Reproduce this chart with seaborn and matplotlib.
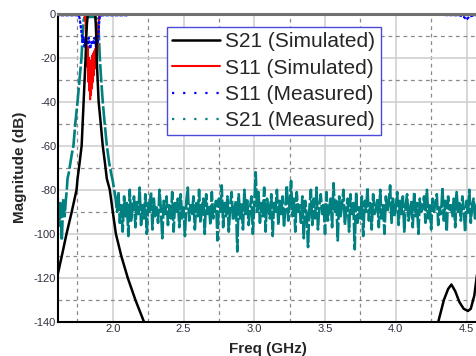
import numpy as np
import pandas as pd
import matplotlib
matplotlib.use("Agg")
import matplotlib.pyplot as plt
import seaborn as sns
from matplotlib.lines import Line2D
from matplotlib.ticker import FixedLocator, FuncFormatter

sns.set_style("white")
plt.rcParams["font.family"] = ["Liberation Sans", "DejaVu Sans"]
plt.rcParams["axes.unicode_minus"] = False

# ---------------- data ----------------
# S21 simulated (black)
s21_sim_f = [1.60, 1.609, 1.64, 1.673, 1.71, 1.744, 1.751, 1.765, 1.780, 1.787, 1.794,
             1.801, 1.808, 1.813, 1.818, 1.823, 1.83, 1.87, 1.876, 1.880, 1.883, 1.886,
             1.893, 1.900, 1.915, 1.929, 1.945, 1.958, 1.979, 2.000, 2.022, 2.060,
             2.106, 2.160, 2.221, 2.300, 2.450, 3.000, 4.000, 4.220, 4.300, 4.340,
             4.370, 4.393, 4.420, 4.450, 4.480, 4.510, 4.530, 4.555, 4.575, 4.600]
s21_sim_db = [-121, -119, -110, -100, -90, -80, -75, -68, -60, -50, -40,
              -30, -20, -10, -4, -1, -0.4, -0.4, -1, -5, -10, -20,
              -30, -40, -50, -60, -68, -75, -80, -90, -100, -110,
              -120, -130, -140, -150, -165, -180, -170, -155, -140, -130,
              -125, -123, -126, -131, -134, -135, -134, -128, -118, -108]

# S11 simulated (red)
s11_sim_f = [1.60, 1.80, 1.808, 1.813, 1.818, 1.822, 1.826, 1.83, 1.833, 1.836, 1.84,
             1.843, 1.846, 1.85, 1.853, 1.856, 1.86, 1.863, 1.867, 1.87, 1.873,
             1.877, 1.88, 1.884, 1.888, 1.892, 1.896, 1.90, 1.905, 4.60]
s11_sim_db = [0, -0.3, -4, -16, -24, -15, -31, -20, -35, -22, -39,
              -25, -37, -21, -34, -19, -31, -18, -28, -17, -25,
              -16, -23, -15, -20, -16, -10, -4, 0, 0]

# S11 measured (blue)
s11_meas_f = [1.60, 1.76, 1.765, 1.772, 1.78, 1.787, 1.795, 1.80, 1.81, 1.82, 1.83,
              1.84, 1.85, 1.86, 1.87, 1.88, 1.89, 1.895, 1.90, 1.905, 1.91, 1.93,
              2.10, 2.12, 3.58, 3.60, 3.62, 4.33, 4.35, 4.45, 4.48, 4.50, 4.52,
              4.55, 4.60]
s11_meas_db = [-0.8, -0.8, -2, -5, -9, -13, -11, -15, -12, -14, -11,
               -16, -13, -14, -11, -15, -12, -13, -8, -3, -1, -0.8,
               -0.8, 0, 0, -0.6, 0, 0, -0.7, -0.8, -1.5, -2.7, -1.5,
               -0.8, -0.7]

# S21 measured (teal): lower band edge, pass band, upper band edge
s21_meas_edge_f = [1.60, 1.61, 1.62, 1.63, 1.64, 1.65, 1.66, 1.668, 1.675, 1.68, 1.69,
                   1.70, 1.71, 1.722, 1.735, 1.751, 1.765, 1.779, 1.787, 1.794, 1.80,
                   1.82, 1.84, 1.86, 1.88, 1.895, 1.902, 1.908, 1.918, 1.929, 1.943,
                   1.958, 1.975, 1.99, 2.00, 2.01]
s21_meas_edge_db = [-88, -83, -97, -86, -103, -84, -92, -85, -80, -75, -72,
                    -68, -64, -60, -50, -40, -30, -20, -10, -3, -1.8,
                    -1.5, -1.6, -1.5, -1.8, -3, -10, -20, -30, -40, -50,
                    -60, -68, -73, -76, -80]
# S21 measured noise floor, 2.02 ... 4.60 GHz in 10 MHz steps
s21_meas_noise_db = [
    -84, -90, -81, -95, -87, -99, -83, -92, -86, -101, -80, -94, -88, -83, -97, -85, -91, -79, -96, -87,
    -93, -82, -100, -86, -90, -81, -98, -84, -92, -88, -95, -80, -89, -102, -85, -91, -83, -96, -87, -93,
    -81, -99, -86, -90, -84, -97, -82, -93, -88, -101, -85, -79, -94, -87, -91, -83, -98, -86, -92, -80,
    -95, -88, -84, -100, -82, -91, -87, -96, -81, -93, -89, -85, -103, -84, -90, -78, -97, -86, -92, -83,
    -99, -87, -81, -94, -89, -85, -108, -82, -93, -86, -98, -80, -91, -84, -96, -88, -83, -100, -87, -72,
    -90, -81, -95, -86, -92, -79, -99, -84, -88, -93, -82, -101, -86, -90, -80, -96, -85, -91, -83, -97,
    -88, -78, -94, -86, -76, -92, -84, -99, -81, -90, -87, -95, -83, -102, -85, -91, -106, -88, -80, -96,
    -84, -93, -79, -98, -87, -82, -91, -86, -100, -81, -94, -88, -84, -97, -77, -90, -85, -103, -83, -92,
    -87, -80, -96, -89, -84, -99, -82, -91, -86, -107, -81, -95, -88, -93, -83, -101, -85, -90, -79, -94,
    -86, -98, -82, -91, -88, -84, -97, -80, -93, -87, -100, -83, -90, -86, -78, -95, -84, -92, -88, -81,
    -96, -85, -91, -83, -99, -87, -82, -94, -89, -85, -97, -81, -92, -86, -100, -84, -90, -88, -83, -95,
    -80, -93, -87, -98, -84, -90, -86, -82, -96, -88, -91, -79, -94, -85, -99, -83, -89, -87, -92, -84,
    -97, -81, -90, -86, -94, -83, -88, -99, -85, -91, -80, -95, -87, -84, -93, -89, -82, -96, -88]
s21_meas_noise_f = list(np.round(np.arange(2.02, 4.605, 0.01), 2))

legend_labels = ["S21 (Simulated)", "S11 (Simulated)", "S11 (Measured)", "S21 (Measured)"]
x_major = [2.0, 2.5, 3.0, 3.5, 4.0, 4.5]
x_minor = [1.75, 2.25, 2.75, 3.25, 3.75, 4.25]
y_major = [0, -20, -40, -60, -80, -100, -120, -140]
y_minor = [-10, -30, -50, -70, -90, -110, -130]

# ---------------- figure ----------------
fig = plt.figure(figsize=(4.77, 3.56), dpi=100)
L, R, B, T = 58.3 / 477, 1.0, 1 - 322 / 356, 1 - 13.5 / 356
ax = fig.add_axes([L, B, R - L, T - B])

teal = "#008080"
df_teal = pd.DataFrame({"f": s21_meas_edge_f + s21_meas_noise_f,
                        "db": s21_meas_edge_db + s21_meas_noise_db})
sns.lineplot(data=df_teal, x="f", y="db", ax=ax, color=teal, lw=1.9,
             linestyle=(0, (7, 1)), sort=False, estimator=None, zorder=3)
sns.lineplot(x=s11_sim_f, y=s11_sim_db, ax=ax, color="#ff0000", lw=1.5,
             sort=False, estimator=None, zorder=4)
sns.lineplot(x=s11_meas_f, y=s11_meas_db, ax=ax, color="#0000ff", lw=1.6,
             linestyle=(0, (1.5, 0.6)), sort=False, estimator=None, zorder=5)
sns.lineplot(x=s21_sim_f, y=s21_sim_db, ax=ax, color="black", lw=1.8,
             sort=False, estimator=None, zorder=6)
l_teal, l_red, l_blue, l_black = ax.lines[:4]

ax.set_xlim(1.615, 4.574)
ax.set_ylim(-140, 0)
ax.xaxis.set_major_locator(FixedLocator(x_major))
ax.xaxis.set_minor_locator(FixedLocator(x_minor))
ax.yaxis.set_major_locator(FixedLocator(y_major))
ax.yaxis.set_minor_locator(FixedLocator(y_minor))
ax.xaxis.set_major_formatter(FuncFormatter(lambda v, p: f"{v:.1f}"))
ax.yaxis.set_major_formatter(FuncFormatter(lambda v, p: f"{int(round(v))}"))
ax.grid(which="major", color="#cdcdcd", lw=1.1, ls="-", zorder=0)
ax.grid(which="minor", color="#8a8a8a", lw=0.9, ls=(0, (3, 3)), zorder=0)
ax.set_axisbelow(True)
ax.tick_params(which="both", length=0)
ax.tick_params(axis="x", pad=1.5, labelsize=8, labelcolor="#303040")
ax.tick_params(axis="y", pad=1.5, labelsize=8, labelcolor="#303040")

for s in ("left", "bottom"):
    ax.spines[s].set_color("black")
    ax.spines[s].set_linewidth(1.5)
    ax.spines[s].set_zorder(8)
ax.spines["top"].set_color("#707070")
ax.spines["top"].set_linewidth(2.2)
ax.spines["top"].set_zorder(8)
ax.spines["right"].set_visible(False)

ax.set_xlabel("Freq (GHz)", fontsize=11, fontweight="bold", labelpad=6)
ax.set_ylabel("Magnitude (dB)", fontsize=11, fontweight="bold", labelpad=5)

h_blue = Line2D([], [], color="#0000ff", lw=1.6, linestyle=(0, (1, 4)))
h_teal = Line2D([], [], color=teal, lw=1.6, linestyle=(0, (1, 4)))
leg = ax.legend(handles=[l_black, l_red, h_blue, h_teal], labels=legend_labels,
                loc="upper left", bbox_to_anchor=(0.2596, 0.956), borderaxespad=0,
                fontsize=15, frameon=True, fancybox=False, framealpha=1,
                edgecolor="#4b4bd8", handlelength=2.3, handletextpad=0.25,
                labelspacing=0.35, borderpad=0.25)
leg.get_frame().set_linewidth(1.0)
leg.set_zorder(10)

fig.savefig("out.png", dpi=100)
